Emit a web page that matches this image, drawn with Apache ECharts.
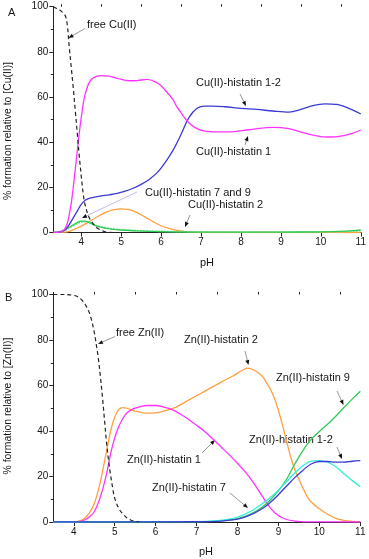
<!DOCTYPE html>
<html><head><meta charset="utf-8">
<script src="https://cdn.jsdelivr.net/npm/echarts@6/dist/echarts.min.js"></script>
<style>html,body{margin:0;padding:0;background:#fff}#c{width:369px;height:559px}</style>
</head><body><div id="c"></div>
<script>
// ---------- Panel A data (Cu(II)) ----------
const cuFreePH = [3.3,3.4,3.5,3.6,3.65,3.7,3.75,3.8,3.85,3.9,3.95,4.0,4.05,4.1,4.2,4.3,4.4,4.5,4.6,4.8,5.0];
const cuFreeVal = [100,99,98,96,92,82,73,64,54,44,34,25,17,12,6.5,3.8,2,1,0.3,0,0];

const cuH1PH = [3.3,3.45,3.55,3.6,3.65,3.7,3.75,3.8,3.85,3.9,3.95,4.0,4.05,4.1,4.2,4.3,4.5,4.7,4.9,5.2,5.4,5.65,5.9,6.0,6.1,6.2,6.3,6.4,6.5,6.6,6.7,6.8,6.9,7.0,7.3,7.7,8.2,8.8,9.2,9.6,10.0,10.3,10.6,10.8,11.0];
const cuH1Val = [0,0.2,0.8,2,4,8,13,20,28,36,44,51,57,61.5,66.5,68.5,69.5,69.3,68.3,67.2,67.3,67.8,66.3,65,63,61,58.7,55.5,53,50.5,48.5,47,46,45.3,44.6,44.6,45.5,46.6,46,44,42.5,42.3,43,44,45.4];

const cuH12PH = [3.3,3.5,3.6,3.7,3.8,3.9,4.0,4.1,4.2,4.3,4.5,4.7,4.9,5.1,5.3,5.5,5.7,5.9,6.1,6.3,6.5,6.7,6.9,7.1,7.3,7.6,8.0,8.4,8.8,9.2,9.5,9.8,10.1,10.4,10.7,11.0];
const cuH12Val = [0,0.3,1.2,3.5,6.5,9.5,12.5,14.3,15.1,15.6,16.2,16.7,17.3,18.3,19.6,21.3,23.5,26.5,31,36.5,43.5,51,55,56,56,55.7,55,54.5,53.8,53.3,54.5,56.2,57,56.7,55,52.5];

const cuH2PH = [3.3,3.6,3.7,3.8,3.9,4.0,4.2,4.4,4.6,4.8,5.0,5.2,5.4,5.6,5.8,6.0,6.2,6.4,6.6,6.8,7.0,11.0];
const cuH2Val = [0,0.2,0.5,1.2,2.0,2.8,4.8,7,8.8,10,10.5,10.1,8.8,6.8,4.8,3.0,1.8,0.9,0.4,0.15,0,0];

const cuH79PH = [3.3,3.4,3.5,3.6,3.7,3.8,3.9,4.0,4.1,4.2,4.3,4.4,4.6,4.8,5.0,5.4,6.0,7.0,8.0,9.0,10.0,10.5,10.8,11.0];
const cuH7Val = [0,0.2,0.6,1.3,2.3,3.4,4.4,5.0,5.0,4.4,3.5,2.8,1.9,1.4,1.1,0.7,0.4,0.2,0.2,0.2,0.3,0.5,0.8,1.1];
const cuH9Val = [0,0.1,0.4,1.0,2.0,3.0,4.0,4.6,4.8,4.5,3.8,3.0,2.1,1.6,1.2,0.8,0.5,0.3,0.2,0.2,0.3,0.4,0.6,0.8];

// ---------- Panel B data (Zn(II)) ----------
const znFreePH = [3.5,3.8,4.0,4.1,4.2,4.3,4.4,4.5,4.55,4.6,4.65,4.7,4.75,4.8,4.85,4.9,4.95,5.0,5.1,5.2,5.3,5.4,5.5,5.6];
const znFreeVal = [100,100,99.6,99,97.5,95,91,83.5,78,72,64,55,45,35,27,20.5,15,10.5,6,3.5,1.8,0.8,0.3,0];

const znH2PH = [3.5,4.0,4.1,4.2,4.3,4.4,4.5,4.6,4.7,4.8,4.9,5.0,5.1,5.2,5.3,5.5,5.7,5.9,6.1,6.3,6.5,6.7,7.0,7.3,7.6,7.9,8.1,8.25,8.4,8.6,8.7,8.8,8.9,9.0,9.1,9.2,9.3,9.4,9.5,9.6,9.7,9.8,10.0,10.2,10.4,10.6,10.8,11.0];
const znH2Val = [0,0,0.3,0.9,2.2,4.5,8,14,22,31,40,46,49.5,50.3,50,48.7,48,47.9,48.3,49.3,50.5,52.5,55.5,58.5,61.5,64.3,66.5,67.6,66.8,64.2,61.5,58.5,54.5,49,42.5,35.5,28.5,23,18.8,14.8,11.3,8.8,5.8,3.4,1.6,0.7,0.3,0.1];

const znH1PH = [3.5,4.1,4.2,4.3,4.4,4.5,4.6,4.7,4.8,4.9,5.0,5.1,5.2,5.3,5.45,5.6,5.8,6.0,6.2,6.4,6.6,6.8,7.0,7.2,7.4,7.6,7.8,8.0,8.2,8.4,8.6,8.8,9.0,9.2,9.4,9.6,11.0];
const znH1Val = [0,0,0.5,1.2,2.5,4.5,8.5,14,21,30,37,42,45.5,48,49.7,50.6,51.2,51.2,50.5,49.4,47.5,45.2,42.5,39.8,36.5,33,29.5,25.8,21.8,17,11.5,6.2,2.8,1.1,0.4,0.1,0];

const znLatePH = [3.5,7.0,7.5,7.8,8.0,8.2,8.4,8.6,8.8,9.0,9.2,9.4,9.6,9.8,10.0,10.2,10.4,10.6,10.8,11.0];
const znH7Val = [0,0.2,0.6,1.3,2.2,3.6,5.5,8,10.8,14,17.8,21.5,24.8,26.8,27,26.3,24.3,21.2,18.3,15.5];
const znH12Val = [0,0.1,0.3,0.8,1.3,2.3,3.8,5.8,8.6,12,15.8,19.5,22.8,25.5,26.6,26.6,26.3,26.3,26.7,27];
const znH9Val = [0,0.1,0.4,0.9,1.5,2.6,4.3,6.5,9.7,13.8,18.8,25.5,31.5,36.3,39.8,43,46.5,50.3,54,57.5];

// ---------- tick labels ----------
const xTicksMajor = [4,5,6,7,8,9,10,11];
const xTicksMinorA = [3.5,4.5,5.5,6.5,7.5,8.5,9.5,10.5];
const xTicksMinorB = [3.5,4.5,5.5,6.5,7.5,8.5,9.5,10.5];

// ---------- chart ----------
const FONT = '"Liberation Sans", Arial, sans-serif';
const TXT = '#151515';
const pairs = (xs, ys) => xs.map((x, i) => [x, ys[i]]);

function line(name, xi, yi, xs, ys, color, opts) {
  return Object.assign({
    name, type: 'line', xAxisIndex: xi, yAxisIndex: yi,
    data: pairs(xs, ys), smooth: 0.35, showSymbol: false, symbol: 'none',
    lineStyle: { color, width: 1.3 }, itemStyle: { color }, silent: true, animation: false
  }, opts || {});
}

function xMain(gi, min) {
  return {
    type: 'value', gridIndex: gi, min, max: 11,
    axisLine: { show: true, lineStyle: { color: '#222', width: 1 } },
    axisTick: { show: true, length: 4, lineStyle: { color: '#222' }, customValues: xTicksMajor },
    axisLabel: { show: true, margin: 5, fontSize: 10, color: TXT, fontFamily: FONT, customValues: xTicksMajor },
    splitLine: { show: false }
  };
}
function xMinor(gi, min, vals) {
  return {
    type: 'value', gridIndex: gi, min, max: 11,
    axisLine: { show: false },
    axisTick: { show: true, length: 2.5, lineStyle: { color: '#222' }, customValues: vals },
    axisLabel: { show: false, customValues: vals },
    splitLine: { show: false }
  };
}
function yAx(gi) {
  return {
    type: 'value', gridIndex: gi, min: 0, max: 100, interval: 20,
    axisLine: { show: true, lineStyle: { color: '#222', width: 1 } },
    axisTick: { show: true, length: 4, lineStyle: { color: '#222' } },
    minorTick: { show: true, splitNumber: 2, length: 2.5, lineStyle: { color: '#222' } },
    axisLabel: { margin: 5, fontSize: 10, color: TXT, fontFamily: FONT },
    splitLine: { show: false }
  };
}

function arrow(x1, y1, x2, y2, stroke) {
  const dx = x2 - x1, dy = y2 - y1, L = Math.hypot(dx, dy), ux = dx / L, uy = dy / L;
  const h = 5, w = 2;
  const bx = x2 - ux * h, by = y2 - uy * h;
  return [
    { type: 'line', shape: { x1, y1, x2: bx, y2: by }, style: { stroke: stroke || '#8a8a8a', lineWidth: 0.9 }, silent: true },
    { type: 'polygon', shape: { points: [[x2, y2], [bx - uy * w, by + ux * w], [bx + uy * w, by - ux * w]] }, style: { fill: '#111' }, silent: true }
  ];
}
function label(text, x, y, opts) {
  return Object.assign({
    type: 'text', x, y, silent: true,
    style: Object.assign({ text, fontSize: 11, fontFamily: FONT, fill: TXT, align: 'left', verticalAlign: 'middle' }, (opts && opts.style) || {})
  }, opts && opts.rotation !== undefined ? { rotation: opts.rotation } : {});
}

// annotation layout (pixels)
const notes = [
  ['free Cu(II)', 87, 25, [85, 28.5, 68.5, 38]],
  ['Cu(II)-histatin 1-2', 196, 83, [240, 94, 246, 106]],
  ['Cu(II)-histatin 1', 196, 151.5, [245, 145, 248, 136]],
  ['Cu(II)-histatin 7 and 9', 145, 193, [137, 192, 82, 218], '#b4b4e4'],
  ['Cu(II)-histatin 2', 188, 205, [190, 215, 185, 227]],
  ['free Zn(II)', 116, 333, [115, 336.5, 98, 344]],
  ['Zn(II)-histatin 2', 184, 340, [245, 351, 248.5, 365]],
  ['Zn(II)-histatin 9', 276, 378, [337, 391, 343.5, 405]],
  ['Zn(II)-histatin 1', 127, 460, [202, 453, 215, 440]],
  ['Zn(II)-histatin 1-2', 249, 440, [337, 447, 342, 459]],
  ['Zn(II)-histatin 7', 152, 488, [230, 493, 248, 508]]
];

const graphic = [];
notes.forEach(n => {
  graphic.push(label(n[0], n[1], n[2]));
  const a = n[3];
  arrow(a[0], a[1], a[2], a[3], n[4]).forEach(g => graphic.push(g));
});
graphic.push(label('A', 8, 13, { style: { fontSize: 11 } }));
graphic.push(label('B', 5, 298, { style: { fontSize: 11 } }));
graphic.push(label('pH', 207, 263, { style: { align: 'center' } }));
graphic.push(label('pH', 206, 552, { style: { align: 'center' } }));
graphic.push(label('% formation relative to [Cu(II)]', 8.5, 131, { rotation: Math.PI / 2, style: { align: 'center', fontSize: 10.4 } }));
graphic.push(label('% formation relative to [Zn(II)]', 8.5, 406, { rotation: Math.PI / 2, style: { align: 'center', fontSize: 10.4 } }));

const MAG = '#ff33ff', BLU = '#3b3bd4', ORG = '#ff9f3f', GRN = '#2ecc55', LGRN = '#7ee09a', CYN = '#33eedd';
const dashed = { lineStyle: { color: '#222', width: 1.2, type: [4, 3] } };

const option = {
  animation: false,
  backgroundColor: '#fff',
  textStyle: { fontFamily: FONT },
  grid: [
    { left: 53.3, top: 6.7, width: 308.4, height: 225.8 },
    { left: 53.3, top: 294.5, width: 307, height: 227.5 }
  ],
  xAxis: [xMain(0, 3.3), xMinor(0, 3.3, xTicksMinorA), xMain(1, 3.5), xMinor(1, 3.5, xTicksMinorB)],
  yAxis: [yAx(0), yAx(1)],
  series: [
    line('Cu(II)-histatin 2', 0, 0, cuH2PH, cuH2Val, ORG),
    line('Cu(II)-histatin 9', 0, 0, cuH79PH, cuH9Val, LGRN, { lineStyle: { color: LGRN, width: 1.6, type: [2, 1] } }),
    line('Cu(II)-histatin 7', 0, 0, cuH79PH, cuH7Val, GRN),
    line('Cu(II)-histatin 1-2', 0, 0, cuH12PH, cuH12Val, BLU),
    line('Cu(II)-histatin 1', 0, 0, cuH1PH, cuH1Val, MAG),
    line('free Cu(II)', 0, 0, cuFreePH, cuFreeVal, '#222', dashed),

    line('Zn(II)-histatin 2', 2, 1, znH2PH, znH2Val, ORG),
    line('Zn(II)-histatin 1', 2, 1, znH1PH, znH1Val, MAG),
    line('Zn(II)-histatin 9', 2, 1, znLatePH, znH9Val, GRN),
    line('Zn(II)-histatin 7', 2, 1, znLatePH, znH7Val, CYN),
    line('Zn(II)-histatin 1-2', 2, 1, znLatePH, znH12Val, BLU),
    line('free Zn(II)', 2, 1, znFreePH, znFreeVal, '#222', dashed)
  ],
  graphic
};

const chart = echarts.init(document.getElementById('c'), null, { renderer: 'canvas' });
chart.setOption(option);
</script>
</body></html>
